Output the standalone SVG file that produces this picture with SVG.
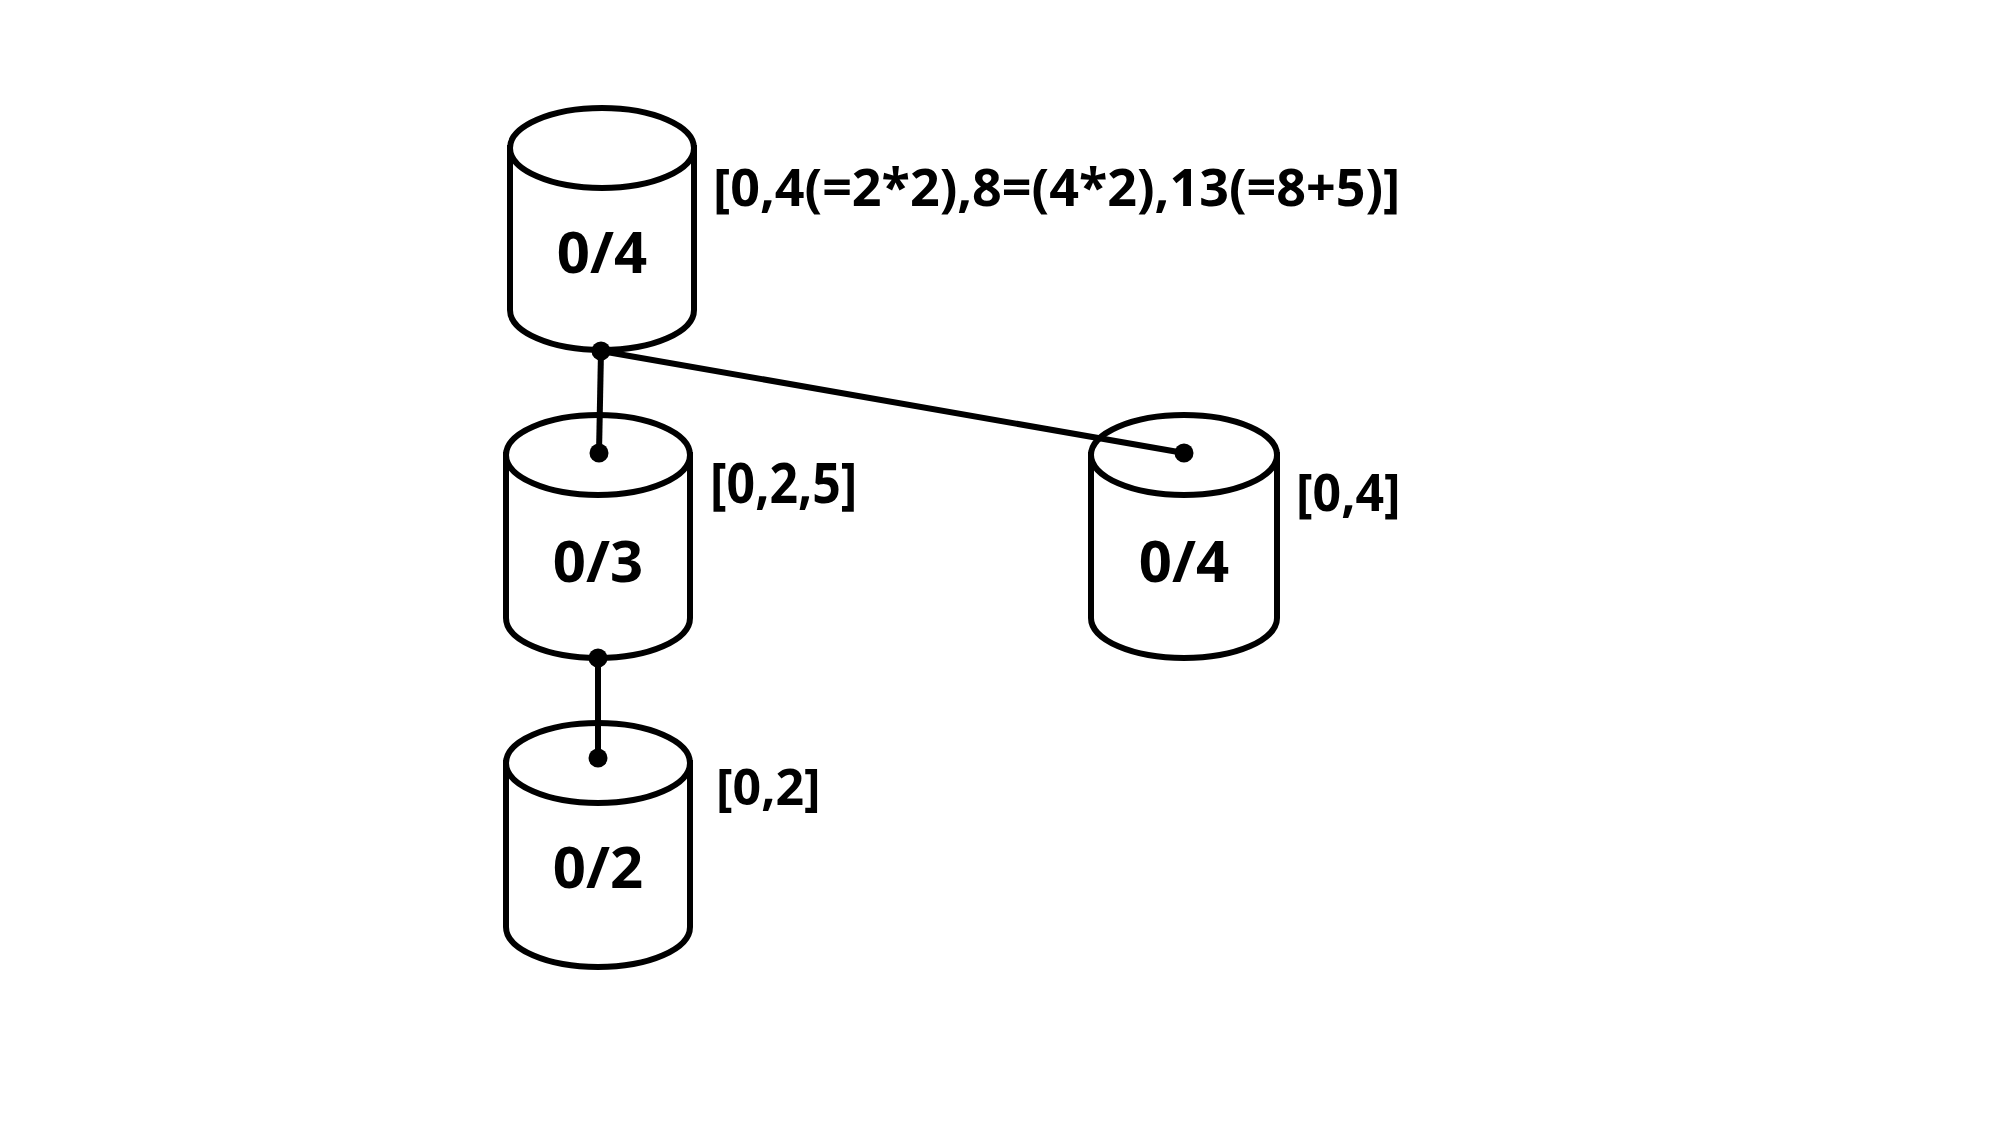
<svg xmlns="http://www.w3.org/2000/svg" width="2000" height="1125" viewBox="0 0 2000 1125">
<style>
.cyl{fill:#fff;stroke:#000;stroke-width:6}
.big{font-family:"Open Sans","Noto Sans","DejaVu Sans",sans-serif;font-weight:bold;font-size:58px;text-anchor:middle;fill:#000}
.lab{font-family:"Open Sans","Noto Sans","DejaVu Sans",sans-serif;font-weight:bold;font-size:50px;fill:#000}
.edge{stroke:#000;stroke-width:6;fill:none}
</style>
<rect width="2000" height="1125" fill="#fff"/>
<g id="node-top">
<path class="cyl" d="M510,148 L510,310 A92,40 0 0 0 694,310 L694,148 Z"/>
<ellipse class="cyl" cx="602" cy="148" rx="92" ry="40"/>
<text class="big" x="602" y="273">0/4</text>
<text class="lab" x="713" y="206" style="font-size:52px">[0,4(=2*2),8=(4*2),13(=8+5)]</text>
</g>
<g id="node-mid">
<path class="cyl" d="M506,455 L506,618 A92,40 0 0 0 690,618 L690,455 Z"/>
<ellipse class="cyl" cx="598" cy="455" rx="92" ry="40"/>
<text class="big" x="598" y="582">0/3</text>
<text class="lab" transform="translate(710,503) scale(1,1.12)">[0,2,5]</text>
</g>
<g id="node-right">
<path class="cyl" d="M1091,455 L1091,618 A93,40 0 0 0 1277,618 L1277,455 Z"/>
<ellipse class="cyl" cx="1184" cy="455" rx="93" ry="40"/>
<text class="big" x="1184" y="582">0/4</text>
<text class="lab" transform="translate(1296,511) scale(1,1.05)">[0,4]</text>
</g>
<g id="node-bottom">
<path class="cyl" d="M506,763 L506,927 A92,40 0 0 0 690,927 L690,763 Z"/>
<ellipse class="cyl" cx="598" cy="763" rx="92" ry="40"/>
<text class="big" x="598" y="888">0/2</text>
<text class="lab" x="716" y="805">[0,2]</text>
</g>
<g id="connectors">
<line class="edge" x1="601" y1="351" x2="599" y2="453"/>
<line class="edge" x1="601" y1="351" x2="1184" y2="453"/>
<line class="edge" x1="598" y1="658" x2="598" y2="758"/>
<circle cx="601" cy="351" r="9.5"/>
<circle cx="599" cy="453" r="9.5"/>
<circle cx="1184" cy="453" r="9.5"/>
<circle cx="598" cy="658" r="9.5"/>
<circle cx="598" cy="758" r="9.5"/>
</g>
</svg>
